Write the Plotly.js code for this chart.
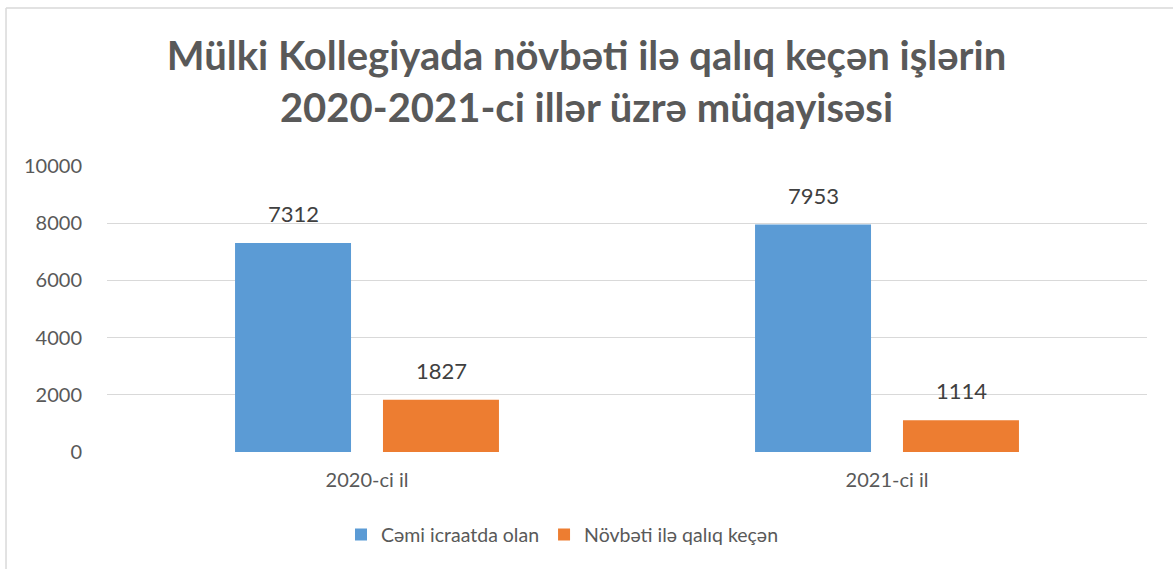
<!DOCTYPE html>
<html>
<head>
<meta charset="utf-8">
<script src="https://cdn.plot.ly/plotly-3.0.1.min.js"></script>
<style>html,body{margin:0;padding:0;background:#fff;}#chart{width:1173px;height:569px;}</style>
</head>
<body>
<div id="chart"></div>
<script>
const categories = ["2020-ci il", "2021-ci il"];
const seriesNames = ["Cəmi icraatda olan", "Növbəti ilə qalıq keçən"];
const totalCases = [7312, 7953];
const carriedOver = [1827, 1114];
const yTicks = [0, 2000, 4000, 6000, 8000, 10000];

const FONT = "Lato, 'Open Sans', sans-serif";
const TEXT = "#595959";

const traces = [
  {type: "bar", name: seriesNames[0], x: categories, y: totalCases, marker: {color: "#5B9BD5"}, hoverinfo: "y"},
  {type: "bar", name: seriesNames[1], x: categories, y: carriedOver, marker: {color: "#ED7D31"}, hoverinfo: "y"}
];

const annotations = [];
[totalCases, carriedOver].forEach((vals, si) => {
  vals.forEach((v, i) => {
    annotations.push({
      x: categories[i], y: v, xref: "x", yref: "y",
      text: String(v), showarrow: false,
      xshift: si === 0 ? -74 : 74, yanchor: "bottom", yshift: 14,
      font: {family: FONT, size: 22, color: "#404040"}
    });
  });
});

const layout = {
  width: 1173, height: 569,
  margin: {l: 107, r: 26, t: 166, b: 117},
  paper_bgcolor: "#ffffff", plot_bgcolor: "#ffffff",
  font: {family: FONT, color: TEXT},
  title: {
    text: "<b>Mülki Kollegiyada növbəti ilə qalıq keçən işlərin<br>2020-2021-ci illər üzrə müqayisəsi</b>",
    font: {family: FONT, size: 40, color: TEXT},
    x: 0.5, xanchor: "center", y: 1 - 70/569, yanchor: "middle"
  },
  barmode: "group", bargap: 0.431, bargroupgap: 0.216,
  xaxis: {
    type: "category", showgrid: false, zeroline: false, showline: false,
    ticks: "", tickfont: {family: FONT, size: 20, color: TEXT}, ticklabelstandoff: 14
  },
  yaxis: {
    range: [0, 10000], tickvals: yTicks, ticktext: yTicks.map(String),
    showgrid: true, gridcolor: "#D9D9D9", gridwidth: 1.3, zeroline: false, showline: false,
    ticks: "", ticklen: 0, tickfont: {family: FONT, size: 20, color: TEXT}, ticklabelstandoff: 24
  },
  showlegend: true,
  legend: {
    orientation: "h", x: 0.225, xanchor: "left", y: -0.29, yanchor: "middle",
    font: {family: FONT, size: 19.5, color: TEXT}, itemwidth: 30, traceorder: "normal"
  },
  annotations: annotations,
  shapes: [
    {type: "line", xref: "paper", yref: "paper", x0: -0.0971, x1: -0.0971, y0: 1.5524, y1: -0.45, line: {color: "#D9D9D9", width: 1.5}},
    {type: "line", xref: "paper", yref: "paper", x0: -0.0971, x1: 1.03, y0: 1.5524, y1: 1.5524, line: {color: "#D9D9D9", width: 1.5}}
  ]
};

Plotly.newPlot("chart", traces, layout, {displayModeBar: false, staticPlot: true});
</script>
</body>
</html>
